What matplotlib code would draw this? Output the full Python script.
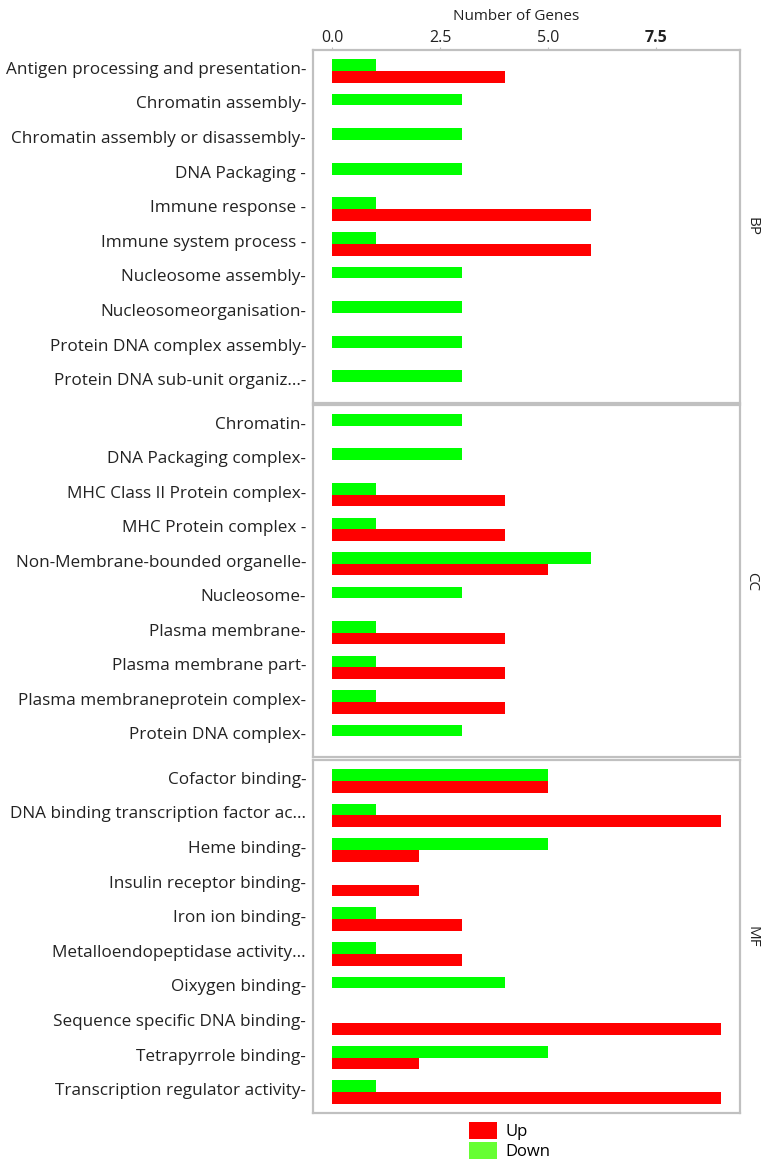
import matplotlib
matplotlib.use("Agg")
import matplotlib.pyplot as plt
from matplotlib.patches import Patch
from matplotlib.transforms import ScaledTranslation

plt.rcParams['font.family'] = ['Open Sans', 'DejaVu Sans']

# GO categories per ontology, listed top to bottom
bp_terms = ["Antigen processing and presentation-", "Chromatin assembly-",
            "Chromatin assembly or disassembly-", "DNA Packaging -",
            "Immune response -", "Immune system process -",
            "Nucleosome assembly-", "Nucleosomeorganisation-",
            "Protein DNA complex assembly-", "Protein DNA sub-unit organiz...-"]
bp_up = [4, 0, 0, 0, 6, 6, 0, 0, 0, 0]
bp_down = [1, 3, 3, 3, 1, 1, 3, 3, 3, 3]

cc_terms = ["Chromatin-", "DNA Packaging complex-",
            "MHC Class II Protein complex-", "MHC Protein complex -",
            "Non-Membrane-bounded organelle-", "Nucleosome-",
            "Plasma membrane-", "Plasma membrane part-",
            "Plasma membraneprotein complex-", "Protein DNA complex-"]
cc_up = [0, 0, 4, 4, 5, 0, 4, 4, 4, 0]
cc_down = [3, 3, 1, 1, 6, 3, 1, 1, 1, 3]

mf_terms = ["Cofactor binding-", "DNA binding transcription factor ac...",
            "Heme binding-", "Insulin receptor binding-", "Iron ion binding-",
            "Metalloendopeptidase activity...", "Oixygen binding-",
            "Sequence specific DNA binding-", "Tetrapyrrole binding-",
            "Transcription regulator activity-"]
mf_up = [5, 9, 2, 2, 3, 3, 0, 9, 2, 9]
mf_down = [5, 1, 5, 0, 1, 1, 4, 0, 5, 1]

panel_names = ["BP", "CC", "MF"]
x_ticks = [0.0, 2.5, 5.0, 7.5]
x_tick_labels = ["0.0", "2.5", "5.0", "7.5"]

UP_COLOR = "#ff0000"
DOWN_COLOR = "#00ff00"
BORDER = "#c0c0c0"
TEXT = "#222222"

W, H = 765, 1161
fig = plt.figure(figsize=(W / 100, H / 100), dpi=100)

left, right = 313 / W, 740 / W
panels_px = [(50, 403), (405, 757), (760, 1113)]
data = [(bp_terms, bp_up, bp_down), (cc_terms, cc_up, cc_down),
        (mf_terms, mf_up, mf_down)]

lift = ScaledTranslation(0, 3 / 100, fig.dpi_scale_trans)
bar_h = 0.34
for i, ((top, bottom), (terms, up, down), name) in enumerate(
        zip(panels_px, data, panel_names)):
    ax = fig.add_axes([left, 1 - bottom / H, right - left, (bottom - top) / H])
    pos = list(range(len(terms)))
    ax.barh(pos, down, height=-bar_h, align='edge', color=DOWN_COLOR, linewidth=0)
    ax.barh(pos, up, height=bar_h, align='edge', color=UP_COLOR, linewidth=0)
    ax.set_xlim(-0.45, 9.45)
    ax.set_ylim(len(terms) - 0.4, -0.6)
    ax.set_yticks(pos)
    ax.set_yticklabels(terms, fontsize=12.3, color=TEXT)
    ax.tick_params(axis='y', length=0, pad=5)
    for lab in ax.get_yticklabels():
        lab.set_transform(lab.get_transform() + lift)
    for sp in ax.spines.values():
        sp.set_color(BORDER)
        sp.set_linewidth(1.6)
    if i == 0:
        ax.xaxis.tick_top()
        ax.set_xticks(x_ticks)
        ax.set_xticklabels(x_tick_labels, fontsize=11.5, color=TEXT)
        ax.tick_params(axis='x', length=2, color=BORDER, pad=1)
        ax.get_xticklabels()[-1].set_fontweight('bold')
    else:
        ax.set_xticks([])
    ax.text(1.028, 0.5, name, transform=ax.transAxes, rotation=-90,
            ha='center', va='center', fontsize=11, color=TEXT)

fig.text(516 / W, 1 - 17 / H, "Number of Genes", ha='center', va='center',
         fontsize=11, color=TEXT)

handles = [Patch(facecolor="#ff0000", edgecolor='none', label="Up"),
           Patch(facecolor="#66ff33", edgecolor='none', label="Down")]
fig.legend(handles=handles, loc='upper left',
           bbox_to_anchor=(457 / W, 1 - 1110 / H), frameon=False,
           fontsize=12, handlelength=1.7, handleheight=1.2,
           handletextpad=0.5, labelspacing=0.15, borderpad=0.2)

fig.savefig("out.png", dpi=100)
